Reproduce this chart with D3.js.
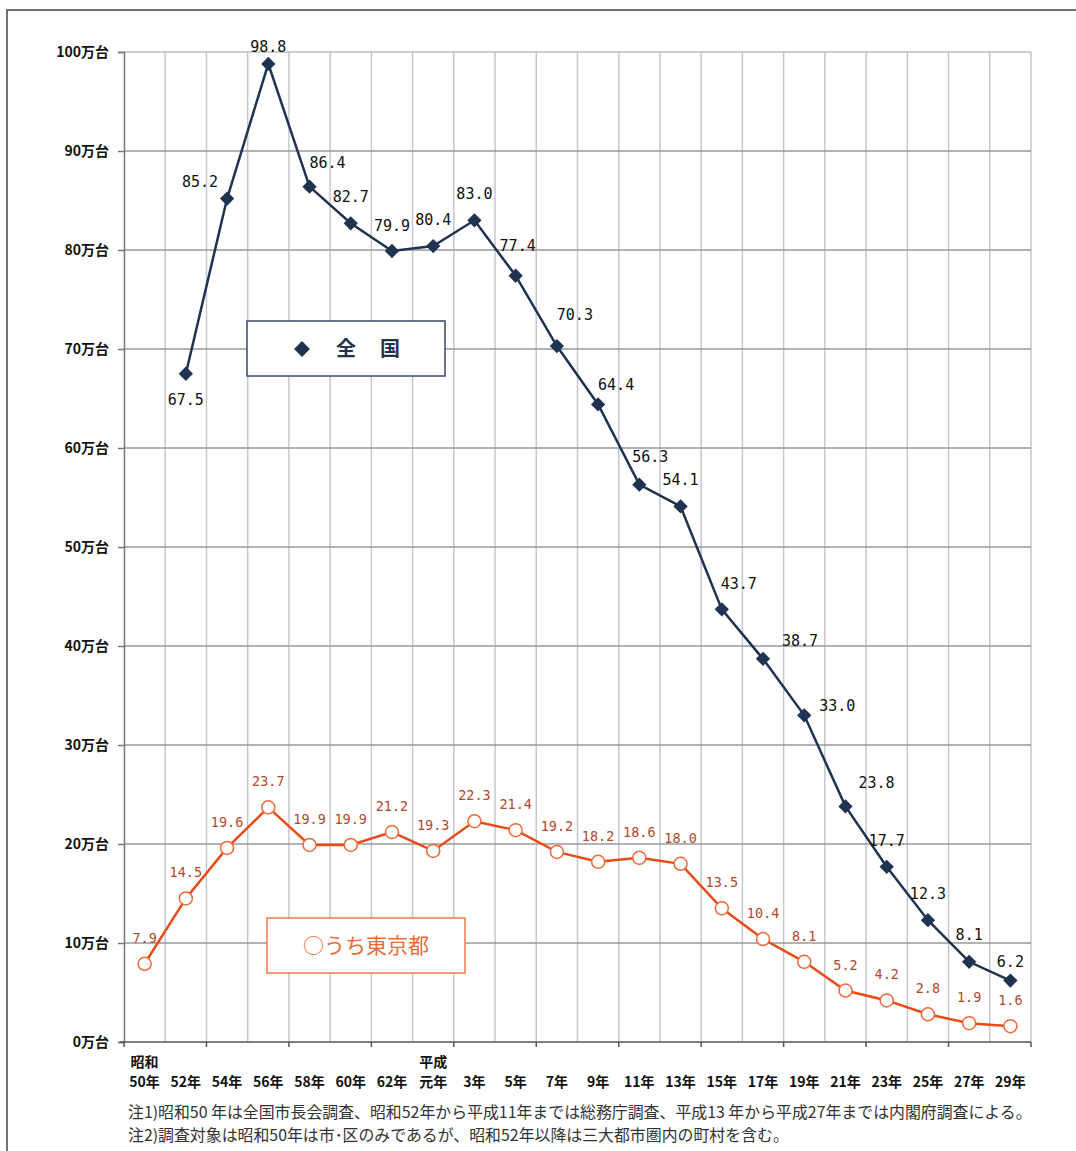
<!DOCTYPE html>
<meta charset="utf-8">
<style>
body { margin: 0; background: #fff; }
.ylab { font: bold 14px "Noto Sans CJK JP", sans-serif; fill: #111; }
.xlab { font: bold 14px "Noto Sans CJK JP", sans-serif; fill: #111; }
.note { font: 15.9px "Noto Sans CJK JP", sans-serif; fill: #333; }
.lab-nat { font: 15px "DejaVu Sans Mono", monospace; fill: #111; }
.lab-tky { font: 13.5px "DejaVu Sans Mono", monospace; fill: #b4482e; }
</style>
<svg width="1076" height="1151"></svg>
<script src="https://cdn.jsdelivr.net/npm/d3@7"></script>
<script>

// x categories (two-line labels: era name on top when it changes)
var years = ["50年","52年","54年","56年","58年","60年","62年","元年","3年","5年","7年","9年",
             "11年","13年","15年","17年","19年","21年","23年","25年","27年","29年"];
var eras  = ["昭和","","","","","","","平成","","","","","","","","","","","","","",""];

// 全国 (万台) - no survey in 昭和50年
var national = [null, 67.5, 85.2, 98.8, 86.4, 82.7, 79.9, 80.4, 83.0, 77.4, 70.3, 64.4,
                56.3, 54.1, 43.7, 38.7, 33.0, 23.8, 17.7, 12.3, 8.1, 6.2];
// うち東京都 (万台)
var tokyo = [7.9, 14.5, 19.6, 23.7, 19.9, 19.9, 21.2, 19.3, 22.3, 21.4, 19.2, 18.2,
             18.6, 18.0, 13.5, 10.4, 8.1, 5.2, 4.2, 2.8, 1.9, 1.6];

var yTicks = [0, 10, 20, 30, 40, 50, 60, 70, 80, 90, 100];

var notes = [
  "注1)昭和50 年は全国市長会調査、昭和52年から平成11年までは総務庁調査、平成13 年から平成27年までは内閣府調査による。",
  "注2)調査対象は昭和50年は市･区のみであるが、昭和52年以降は三大都市圏内の町村を含む。"
];

// label nudges for the 全国 series [dx, dy]
var natLabelPos = [null,[0,25],[-27,-18],[0,-18],[18,-25],[0,-27],[0,-26],[0,-27],[0,-27],[2,-31],
  [18,-32],[18,-20],[11,-29],[0,-27],[17,-26],[37,-19],[33,-10],[31,-24],[0,-27],[0,-27],[0,-28],[0,-20]];

var svg = d3.select("svg");
var mLeft = 124, mRight = 1031, mTop = 52, mBottom = 1042;

var x = d3.scaleBand().domain(d3.range(years.length)).range([mLeft, mRight]);
var y = d3.scaleLinear().domain([0, 100]).range([mBottom, mTop]);
var cx = function(i) { return x(i) + x.bandwidth() / 2; };

// frame
svg.append("path").attr("d", "M7,1151V10H1076")
    .attr("fill", "none").attr("stroke", "#444").attr("stroke-width", 1.5);

// vertical grid at band boundaries
var g = svg.append("g");
g.selectAll(".vg").data(d3.range(1, years.length + 1)).enter().append("line")
    .attr("x1", function(i) { return x(i - 1) + x.bandwidth(); })
    .attr("x2", function(i) { return x(i - 1) + x.bandwidth(); })
    .attr("y1", mTop).attr("y2", mBottom)
    .attr("stroke", "#c4c8ce").attr("stroke-width", 1.5);

// horizontal grid
g.selectAll(".hg").data(yTicks.slice(1)).enter().append("line")
    .attr("x1", mLeft).attr("x2", mRight)
    .attr("y1", function(d) { return y(d); }).attr("y2", function(d) { return y(d); })
    .attr("stroke", function(d) { return d === 100 ? "#b8bec6" : "#999"; })
    .attr("stroke-width", 1.5);

// y axis
var yAxis = svg.append("g").attr("transform", "translate(" + mLeft + ",0)")
    .call(d3.axisLeft(y).tickValues(yTicks).tickSize(6).tickFormat(function(d) { return d + "万台"; }));
yAxis.select(".domain").attr("stroke", "#777").attr("stroke-width", 1.5);
yAxis.selectAll(".tick line").attr("stroke", "#777").attr("stroke-width", 1.5);
yAxis.selectAll(".tick text").attr("class", "ylab").attr("x", -15).attr("dy", "0.35em");

// x axis
svg.append("line").attr("x1", mLeft - 4).attr("x2", mRight).attr("y1", mBottom).attr("y2", mBottom)
    .attr("stroke", "#555").attr("stroke-width", 1.5);
svg.selectAll(".xt").data(d3.range(0, years.length + 1, 2)).enter().append("line")
    .attr("x1", function(i) { return i < years.length ? x(i) : mRight; })
    .attr("x2", function(i) { return i < years.length ? x(i) : mRight; })
    .attr("y1", mBottom).attr("y2", mBottom + 5)
    .attr("stroke", "#555").attr("stroke-width", 1.5);

svg.selectAll(".xl").data(years).enter().append("text")
    .attr("class", "xlab").attr("text-anchor", "middle")
    .attr("x", function(d, i) { return cx(i); }).attr("y", 1087)
    .text(function(d) { return d; });
svg.selectAll(".xe").data(eras).enter().append("text")
    .attr("class", "xlab").attr("text-anchor", "middle")
    .attr("x", function(d, i) { return cx(i); }).attr("y", 1067)
    .text(function(d) { return d; });

// lines
var line = d3.line().defined(function(d) { return d != null; })
    .x(function(d, i) { return cx(i); }).y(function(d) { return y(d); });

svg.append("path").datum(tokyo).attr("d", line)
    .attr("fill", "none").attr("stroke", "#e84c16").attr("stroke-width", 2.5);
svg.append("path").datum(national).attr("d", line)
    .attr("fill", "none").attr("stroke", "#1f3350").attr("stroke-width", 2.5);

// tokyo markers + labels
svg.selectAll(".tm").data(tokyo).enter().append("circle")
    .attr("cx", function(d, i) { return cx(i); }).attr("cy", function(d) { return y(d); })
    .attr("r", 6.5).attr("fill", "#fff").attr("stroke", "#ef6a3a").attr("stroke-width", 1.5);
svg.selectAll(".tl").data(tokyo).enter().append("text")
    .attr("class", "lab-tky").attr("text-anchor", "middle")
    .attr("x", function(d, i) { return cx(i); })
    .attr("y", function(d) { return y(d) - 21; })
    .text(function(d) { return d.toFixed(1); });

// national markers + labels
var natIdx = d3.range(national.length).filter(function(i) { return national[i] != null; });
svg.selectAll(".nm").data(natIdx).enter().append("path")
    .attr("d", d3.symbol(d3.symbolDiamond2, 130))
    .attr("transform", function(i) { return "translate(" + cx(i) + "," + y(national[i]) + ")"; })
    .attr("fill", "#1f3350");
svg.selectAll(".nl").data(natIdx).enter().append("text")
    .attr("class", "lab-nat").attr("text-anchor", "middle")
    .attr("x", function(i) { return cx(i) + natLabelPos[i][0]; })
    .attr("y", function(i) { return y(national[i]) + natLabelPos[i][1] + 6; })
    .text(function(i) { return national[i].toFixed(1); });

// legend: 全国
var l1 = svg.append("g");
l1.append("rect").attr("x", 247).attr("y", 321).attr("width", 198).attr("height", 55)
    .attr("fill", "#fff").attr("stroke", "#3a4866").attr("stroke-width", 1.5);
l1.append("path").attr("d", d3.symbol(d3.symbolDiamond2, 160))
    .attr("transform", "translate(302,349)").attr("fill", "#1f3350");
l1.append("text").attr("x", 346).attr("y", 356).attr("text-anchor", "middle")
    .style("font", "bold 20px 'Noto Sans CJK JP', sans-serif").attr("fill", "#1f3350").text("全");
l1.append("text").attr("x", 390).attr("y", 356).attr("text-anchor", "middle")
    .style("font", "bold 20px 'Noto Sans CJK JP', sans-serif").attr("fill", "#1f3350").text("国");

// legend: うち東京都
var l2 = svg.append("g");
l2.append("rect").attr("x", 267).attr("y", 918).attr("width", 198).attr("height", 55)
    .attr("fill", "#fff").attr("stroke", "#f07a4a").attr("stroke-width", 1.5);
l2.append("text").attr("x", 366).attr("y", 953).attr("text-anchor", "middle")
    .style("font", "21px 'Noto Sans CJK JP', sans-serif").attr("fill", "#ee6a35").text("○うち東京都");

// notes
svg.selectAll(".nt").data(notes).enter().append("text")
    .attr("class", "note").attr("x", 128)
    .attr("y", function(d, i) { return 1118 + i * 23; })
    .text(function(d) { return d; });

</script>
